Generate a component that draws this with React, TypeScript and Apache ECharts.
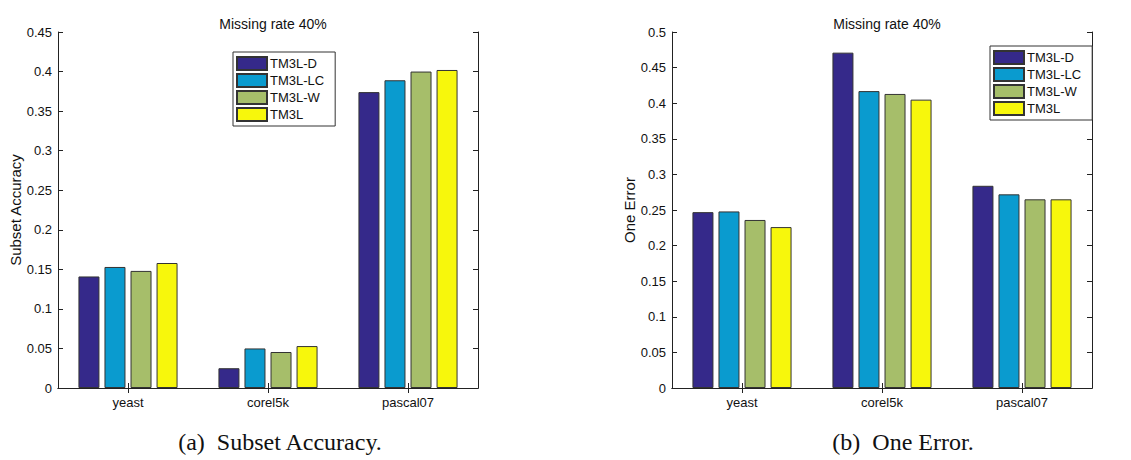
import React, { useEffect, useRef } from "react";
import * as echarts from "echarts";

const categories = ["yeast", "corel5k", "pascal07"];
const methods = ["TM3L-D", "TM3L-LC", "TM3L-W", "TM3L"];
const colors = ["#35298A", "#0A9BCF", "#A6BE6A", "#F7F70C"];

// Subset Accuracy (left), one array per method, columns = categories
const subsetD = [0.141, 0.025, 0.374];
const subsetLC = [0.153, 0.050, 0.389];
const subsetW = [0.148, 0.0455, 0.400];
const subsetT = [0.158, 0.053, 0.402];

// One Error (right)
const oneErrD = [0.247, 0.471, 0.284];
const oneErrLC = [0.248, 0.417, 0.272];
const oneErrW = [0.236, 0.413, 0.265];
const oneErrT = [0.226, 0.405, 0.265];

const leftTicks = { min: 0, max: 0.45, interval: 0.05 };
const rightTicks = { min: 0, max: 0.5, interval: 0.05 };

const titleText = "Missing rate 40%";
const leftYName = "Subset Accuracy";
const rightYName = "One Error";
const leftCaption = "(a)  Subset Accuracy.";
const rightCaption = "(b)  One Error.";

const FONT = "Liberation Sans, Arial, sans-serif";
const SERIF = "Liberation Serif, Times New Roman, serif";

export default function App() {
  const ref = useRef<HTMLDivElement>(null);
  useEffect(() => {
    document.body.style.margin = "0";
    const chart = echarts.init(ref.current!, null, { renderer: "svg" });
    const leftData = [subsetD, subsetLC, subsetW, subsetT];
    const rightData = [oneErrD, oneErrLC, oneErrW, oneErrT];

    const fmt = (v: number) => Number(v.toFixed(2)).toString();

    const xAxisBase = (gridIndex: number, position: "bottom" | "top") => ({
      type: "category",
      gridIndex,
      position,
      data: categories,
      boundaryGap: true,
      axisLine: { show: true, lineStyle: { color: "#222", width: 1 } },
      axisTick: { show: true, inside: true, length: 5, alignWithLabel: true, lineStyle: { color: "#222" } },
      axisLabel: {
        show: position === "bottom",
        color: "#111",
        fontFamily: FONT,
        fontSize: 13,
        margin: 8,
      },
      splitLine: { show: false },
    });

    const yAxisBase = (gridIndex: number, position: "left" | "right", ticks: any, name: string) => ({
      type: "value",
      gridIndex,
      position,
      min: ticks.min,
      max: ticks.max,
      interval: ticks.interval,
      name: position === "left" ? name : "",
      nameLocation: "middle",
      nameGap: 35,
      nameRotate: 90,
      nameTextStyle: { color: "#111", fontFamily: FONT, fontSize: 15 },
      axisLine: { show: true, lineStyle: { color: "#222", width: 1 } },
      axisTick: { show: true, inside: true, length: 5, lineStyle: { color: "#222" } },
      axisLabel: {
        show: position === "left",
        color: "#111",
        fontFamily: FONT,
        fontSize: 13,
        margin: 6,
        formatter: fmt,
      },
      splitLine: { show: false },
    });

    const series: any[] = [];
    [leftData, rightData].forEach((set, gi) => {
      set.forEach((vals, mi) => {
        series.push({
          type: "bar",
          name: methods[mi],
          xAxisIndex: gi * 2,
          yAxisIndex: gi * 2,
          data: vals,
          barWidth: 21,
          barGap: "24%",
          itemStyle: { color: colors[mi], borderColor: "#333", borderWidth: 1 },
        });
      });
    });

    const legendBase = (left: number, top: number) => ({
      orient: "vertical",
      left,
      top,
      data: methods,
      icon: "rect",
      itemWidth: 30,
      itemHeight: 13,
      itemGap: 2,
      padding: [4, 11, 4, 3],
      backgroundColor: "#fff",
      borderColor: "#333",
      borderWidth: 1,
      borderRadius: 0,
      selectedMode: false,
      textStyle: { color: "#111", fontFamily: FONT, fontSize: 13, padding: [0, 0, 0, -2] },
    });

    const titleStyle = { color: "#111", fontFamily: FONT, fontSize: 14, fontWeight: "normal" };
    const capStyle = { color: "#111", fontFamily: SERIF, fontSize: 24, fontWeight: "normal" };

    chart.setOption({
      animation: false,
      backgroundColor: "#fff",
      title: [
        { text: titleText, left: 268, top: 12, textAlign: "center", textStyle: titleStyle },
        { text: titleText, left: 882, top: 12, textAlign: "center", textStyle: titleStyle },
        { text: leftCaption, left: 275, top: 425, textAlign: "center", textStyle: capStyle },
        { text: rightCaption, left: 898, top: 425, textAlign: "center", textStyle: capStyle },
      ],
      legend: [legendBase(233, 52), legendBase(990, 46)],
      grid: [
        { left: 58, top: 32, width: 420, height: 356, containLabel: false },
        { left: 672, top: 32, width: 420, height: 356, containLabel: false },
      ],
      xAxis: [xAxisBase(0, "bottom"), xAxisBase(0, "top"), xAxisBase(1, "bottom"), xAxisBase(1, "top")],
      yAxis: [
        yAxisBase(0, "left", leftTicks, leftYName),
        yAxisBase(0, "right", leftTicks, leftYName),
        yAxisBase(1, "left", rightTicks, rightYName),
        yAxisBase(1, "right", rightTicks, rightYName),
      ],
      series,
    });
    return () => chart.dispose();
  }, []);
  return <div ref={ref} style={{ width: 1131, height: 460 }} />;
}
